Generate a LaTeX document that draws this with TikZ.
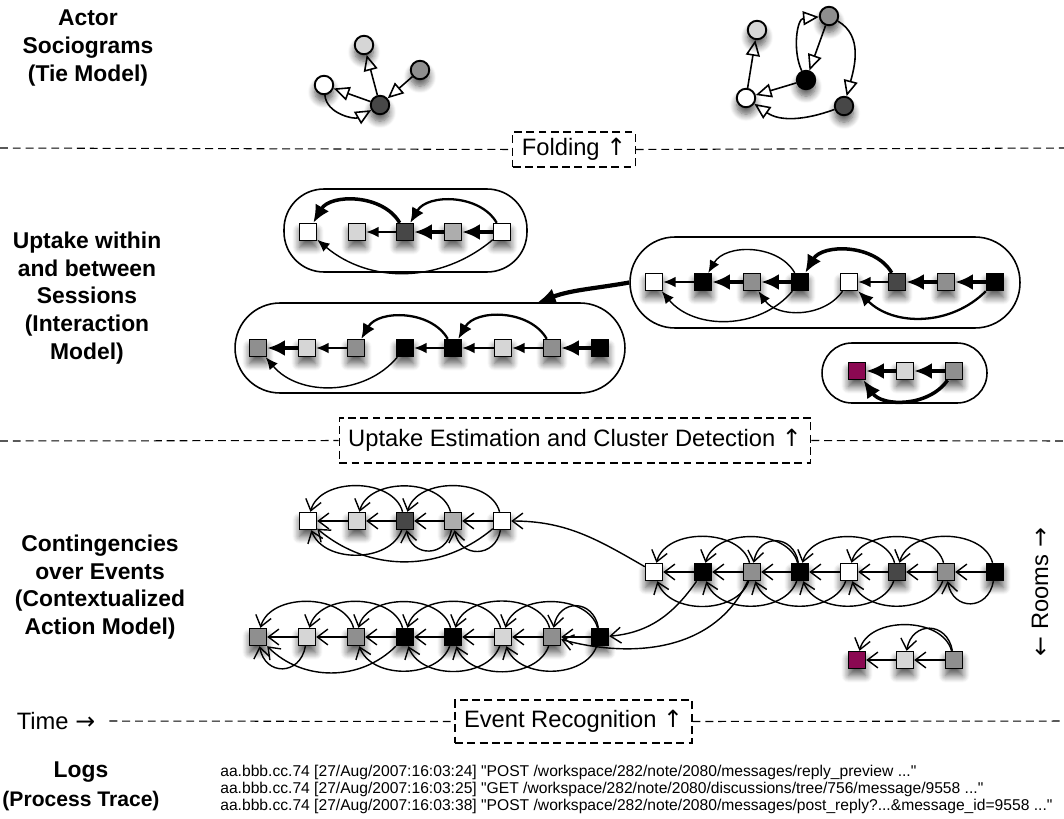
\documentclass[tikz,border=0pt]{standalone}
\usepackage{fontspec}
\setmainfont{Liberation Sans}
\newfontfamily\logfont{Liberation Sans}[Ligatures=TeXOff]
\newfontfamily\arrowfont{DejaVu Sans}
\usetikzlibrary{arrows.meta,positioning,shadows.blur}

\definecolor{nlight}{gray}{0.84}
\definecolor{nmid}{gray}{0.56}
\definecolor{npale}{gray}{0.68}
\definecolor{ndark}{gray}{0.28}
\definecolor{npurple}{RGB}{139,8,82}

\newcommand{\upar}{{\arrowfont ↑}}
\newcommand{\rtar}{{\arrowfont →}}
\newcommand{\ltar}{{\arrowfont ←}}

\tikzset{
  fuzz/.style={blur shadow={shadow xshift=0pt, shadow yshift=-4pt, shadow blur radius=4pt, shadow blur steps=8, shadow opacity=65}},
  actor/.style={circle, draw, line width=1.1pt, minimum size=0.37cm, inner sep=0pt, fuzz},
  evt/.style={rectangle, draw, line width=0.8pt, minimum size=0.34cm, inner sep=0pt, fuzz},
  tie/.style={line width=0.9pt, -{Triangle[open, length=9pt, width=8pt]}},
  w1/.style={line width=0.8pt, -{Latex[length=7pt,width=6pt]}},
  w2/.style={line width=1.3pt, -{Latex[length=8.5pt,width=7.5pt]}},
  w3/.style={line width=2pt, -{Latex[length=10pt,width=9pt]}},
  ctx/.style={line width=0.8pt, -{Straight Barb[length=6pt,width=9pt]}},
  session/.style={draw, line width=0.9pt, inner sep=0pt},
  lbl/.style={align=center, font=\fontsize{13}{15.7}\selectfont\bfseries},
  stage/.style={draw, line width=0.6pt, dash pattern=on 4.5pt off 2.5pt, fill=white, inner xsep=0.18cm, font=\fontsize{13.5}{16}\selectfont},
  sep/.style={line width=0.6pt, dash pattern=on 4.5pt off 2.8pt},
  logtxt/.style={anchor=west, inner sep=0pt, font=\logfont\fontsize{8.9}{10}\selectfont},
}

\begin{document}
\begin{tikzpicture}[x=0.02cm, y=-0.02cm]
\useasboundingbox (0,0) rectangle (1064,818);

% Left column labels
\node[lbl] (tielbl) at (88,48) {Actor\\Sociograms\\(Tie Model)};
\node[lbl] (interlbl) at (87,298) {Uptake within\\and between\\Sessions\\(Interaction\\Model)};
\node[lbl] (ctxlbl) at (100,587) {Contingencies\\over Events\\(Contextualized\\Action Model)};
\node[lbl, font=\fontsize{12}{16.4}\selectfont\bfseries] (logslbl) at (81,786) {{\fontsize{13}{16}\selectfont Logs}\\(Process Trace)};

% Stage separators
\node[stage, minimum height=0.7cm] (fold) at (574,149.5) {Folding \upar};
\draw[sep] (0,148) -- (fold.west);
\draw[sep] (fold.east) -- (1064,148);
\node[stage, minimum height=0.9cm] (est) at (575,440.5) {Uptake Estimation and Cluster Detection \upar};
\draw[sep] (0,441) -- (est.west);
\draw[sep] (est.east) -- (1064,441);
\node[font=\fontsize{13.5}{16}\selectfont] (time) at (56,721) {Time \rtar};
\node[stage, minimum height=0.86cm] (rec) at (573.5,721.5) {Event Recognition \upar};
\draw[sep] ([xshift=0.16cm]time.east) -- (rec.west);
\draw[sep] (rec.east) -- (1064,721);
\node[rotate=90, font=\fontsize{13.5}{16}\selectfont] (rooms) at (1040,592) {\ltar\ Rooms \rtar};

% Sociograms
\node[actor, fill=white] (sa) at (324,85) {};
\node[actor, fill=nlight] (sb) at (364,45) {};
\node[actor, fill=nmid] (sc) at (420,70) {};
\node[actor, fill=ndark] (sd) at (380,105) {};
\draw[tie] (sd) -- (sb);
\draw[tie] (sd) -- (sa);
\draw[tie] (sc) -- (sd);
\draw[tie] (sa) to[out=-85,in=210] (sd);

\node[actor, fill=nlight] (ra) at (757,30) {};
\node[actor, fill=nmid] (rb) at (829,16) {};
\node[actor, fill=black] (rc) at (806,80) {};
\node[actor, fill=white] (rd) at (746,98) {};
\node[actor, fill=ndark] (re) at (844,106) {};
\draw[tie] (rd) -- (ra);
\draw[tie] (rc) -- (rd);
\draw[tie] (rb) -- (rc);
\draw[tie] (rc) to[out=115,in=185] (rb);
\draw[tie] (rb) to[out=-30,in=75] (re);
\draw[tie] (re) to[out=200,in=-35] (rd);

% Sessions
\node[session, rounded corners=0.8cm, minimum width=4.86cm, minimum height=1.66cm] (s1) at (405.5,230.5) {};
\node[session, rounded corners=0.9cm, minimum width=7.8cm, minimum height=1.82cm] (s2) at (825,282.5) {};
\node[session, rounded corners=0.9cm, minimum width=7.8cm, minimum height=1.8cm] (s3) at (430,348) {};
\node[session, rounded corners=0.6cm, minimum width=3.3cm, minimum height=1.2cm] (s4) at (904.5,373) {};

\foreach \n/\x/\c in {1/308/white,2/357/nlight,3/405/ndark,4/453/npale,5/502/white}
  \node[evt, fill=\c] (i\n) at (\x,232) {};
\draw[w1] (i3) -- (i2);
\draw[w3] (i4) -- (i3);
\draw[w3] (i5) -- (i4);
\draw[w3] (i3) to[bend right=60] (i1);
\draw[w2] (i5) to[bend right=60] (i3);
\draw[w1] (i5) to[bend left=40] (i1);

\foreach \n/\x/\c in {1/654/white,2/703/black,3/752/nmid,4/800/black,5/849/white,6/897/ndark,7/946/nmid,8/995/black}
  \node[evt, fill=\c] (j\n) at (\x,282) {};
\draw[w1] (j2) -- (j1);
\draw[w3] (j3) -- (j2);
\draw[w3] (j4) -- (j3);
\draw[w1] (j6) -- (j5);
\draw[w3] (j7) -- (j6);
\draw[w3] (j8) -- (j7);
\draw[w1] (j4) to[bend right=60] (j2);
\draw[w3] (j6) to[bend right=60] (j4);
\draw[w1] (j4) to[bend left=50] (j1);
\draw[w1] (j5) to[bend left=55] (j3);
\draw[w2] (j8) to[bend left=45] (j5);

\foreach \n/\x/\c in {1/258/nmid,2/307/nlight,3/356/nmid,4/405/black,5/453/black,6/503/nlight,7/552/nmid,8/600/black}
  \node[evt, fill=\c] (k\n) at (\x,348) {};
\draw[w3] (k2) -- (k1);
\draw[w1] (k3) -- (k2);
\draw[w1] (k5) -- (k4);
\draw[w1] (k6) -- (k5);
\draw[w1] (k7) -- (k6);
\draw[w3] (k8) -- (k7);
\draw[w2] (k5) to[bend right=60] (k3);
\draw[w2] (k7) to[bend right=60] (k5);
\draw[w1] (k4) to[bend left=50] (k1);

\foreach \n/\x/\c in {1/857/npurple,2/905/nlight,3/954/nmid}
  \node[evt, fill=\c] (m\n) at (\x,371) {};
\draw[w3] (m2) -- (m1);
\draw[w3] (m3) -- (m2);
\draw[w3] (m3) to[bend left=55] (m1);

\draw[w3, line width=2.4pt] (s2.west) to[out=190,in=20] (s3.23);

% Contingencies over events
\foreach \n/\x/\c in {1/308/white,2/357/nlight,3/405/ndark,4/453/npale,5/502/white}
  \node[evt, fill=\c] (a\n) at (\x,521) {};
\foreach \n/\x/\c in {1/654/white,2/703/black,3/752/nmid,4/800/black,5/849/white,6/897/ndark,7/946/nmid,8/995/black}
  \node[evt, fill=\c] (b\n) at (\x,572) {};
\foreach \n/\x/\c in {1/258/nmid,2/307/nlight,3/356/nmid,4/405/black,5/453/black,6/503/nlight,7/552/nmid,8/600/black}
  \node[evt, fill=\c] (c\n) at (\x,637) {};
\foreach \n/\x/\c in {1/857/npurple,2/905/nlight,3/954/nmid}
  \node[evt, fill=\c] (d\n) at (\x,660) {};

\foreach \a/\b in {2/1,3/2,4/3,5/4}
  \draw[ctx] (a\a) -- (a\b);
\foreach \a/\b in {3/1,4/2,5/3}
  \draw[ctx] (a\a) to[bend right=75] (a\b);
\draw[ctx] (a3) to[bend left=70] (a1);
\draw[ctx] (a5) to[bend left=40] (a1);
\draw[ctx] (a4) to[bend left=80, looseness=1.6] (a3);
\draw[ctx] (a5) to[bend left=80, looseness=1.6] (a4);

\foreach \a/\b in {2/1,3/2,4/3,5/4,6/5,7/6,8/7}
  \draw[ctx] (b\a) -- (b\b);
\foreach \a/\b in {3/1,4/2,6/4,7/5,8/6}
  \draw[ctx] (b\a) to[bend right=75] (b\b);
\draw[ctx] (b4) to[bend right=80, looseness=1.7] (b3);
\foreach \a/\b in {3/1,4/2,5/3,6/4,7/5}
  \draw[ctx] (b\a) to[bend left=70] (b\b);
\draw[ctx] (b8) to[bend left=80, looseness=1.7] (b7);

\foreach \a/\b in {2/1,3/2,4/3,5/4,6/5,7/6,8/7}
  \draw[ctx] (c\a) -- (c\b);
\foreach \a/\b in {3/1,4/2,5/3,6/4,7/5,8/6}
  \draw[ctx] (c\a) to[bend right=75] (c\b);
\draw[ctx] (c8) to[bend right=80, looseness=1.7] (c7);
\draw[ctx] (c2) to[bend left=80, looseness=1.7] (c1);
\draw[ctx] (c4) to[bend left=45] (c1);
\foreach \a/\b in {5/3,6/4,7/5,8/6}
  \draw[ctx] (c\a) to[bend left=70] (c\b);

\draw[ctx] (d2) -- (d1);
\draw[ctx] (d3) -- (d2);
\draw[ctx] (d3) to[bend right=75] (d1);
\draw[ctx] (d3) to[bend right=80, looseness=1.7] (d2);

% links across rooms
\draw[ctx] (b1) to[out=150,in=0] (a5);
\draw[ctx] (b2) to[out=-125,in=5] (c8);
\draw[ctx] (b3) to[out=-115,in=-15] (c7);

% Logs
\node[logtxt] (log1) at (220,772) {aa.bbb.cc.74 [27/Aug/2007:16:03:24] "POST /workspace/282/note/2080/messages/reply\_preview ..."};
\node[logtxt] (log2) at (220,789) {aa.bbb.cc.74 [27/Aug/2007:16:03:25] "GET /workspace/282/note/2080/discussions/tree/756/message/9558 ..."};
\node[logtxt] (log3) at (220,806) {aa.bbb.cc.74 [27/Aug/2007:16:03:38] "POST /workspace/282/note/2080/messages/post\_reply?...\&message\_id=9558 ..."};
\end{tikzpicture}
\end{document}
